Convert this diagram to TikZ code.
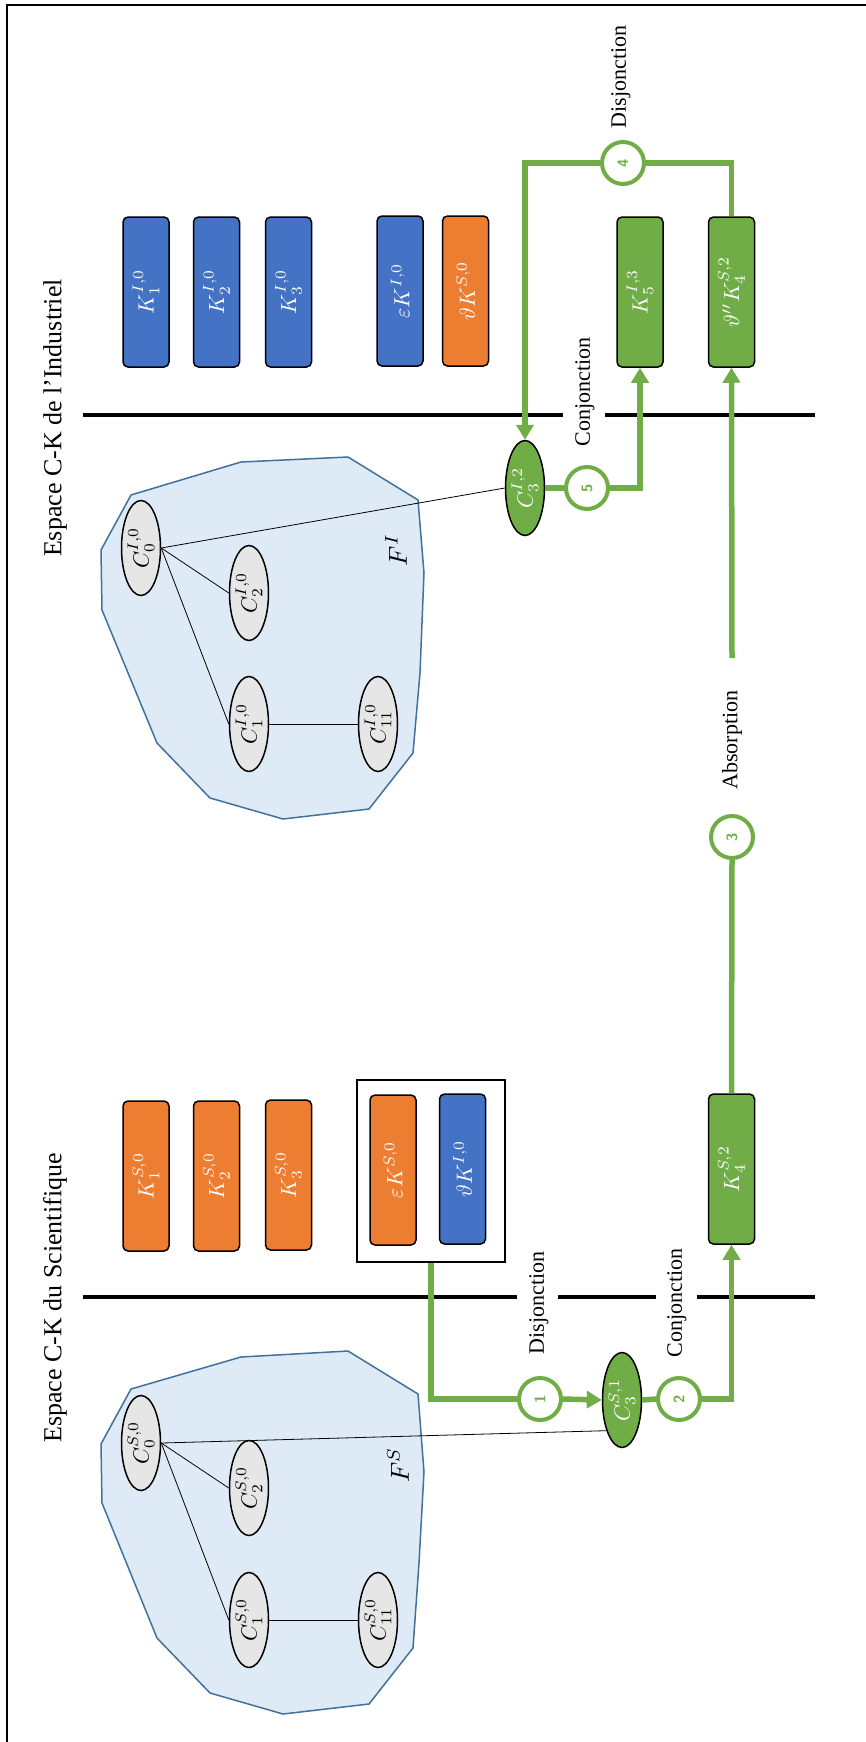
\documentclass[tikz,border=0pt]{standalone}
\usepackage{fontspec}
\setmainfont{Liberation Serif}
\usetikzlibrary{arrows.meta,shapes.geometric}
\definecolor{cblue}{HTML}{4472C4}
\definecolor{corange}{HTML}{ED7D31}
\definecolor{cgreen}{HTML}{70AD47}
\definecolor{cfill}{HTML}{DEEBF7}
\definecolor{cpoly}{HTML}{41719C}
\definecolor{cgrey}{HTML}{E7E6E6}
\newcommand\rtxt[1]{\rotatebox{90}{#1}}
\newcommand\mth[1]{\rotatebox{90}{\scalebox{2.2}{$#1$}}}
\begin{document}
\begin{tikzpicture}[x=1pt,y=-1pt,
  kbox/.style={draw=black, line width=1.5pt, rounded corners=5pt, minimum width=46pt, minimum height=150pt, inner sep=0pt, text=white, font=\normalsize},
  kblue/.style={kbox, fill=cblue},
  korange/.style={kbox, fill=corange},
  kgreen/.style={kbox, fill=cgreen},
  cell/.style={ellipse, draw=black, line width=1.5pt, minimum width=39pt, minimum height=95pt, inner sep=0pt, fill=cgrey, font=\normalsize},
  gcell/.style={cell, fill=cgreen, text=white},
  cnum/.style={circle, draw=cgreen, line width=4pt, fill=white, minimum size=42pt, inner sep=0pt, text=cgreen, font=\sffamily\bfseries\fontsize{15}{15}\selectfont},
  lab/.style={inner sep=0pt, font=\fontsize{22}{24}\selectfont},
  title/.style={inner sep=0pt, font=\fontsize{26}{28}\selectfont},
  flab/.style={inner sep=0pt, font=\normalsize},
  gline/.style={draw=cgreen, line width=5.5pt},
  garrow/.style={gline, -{Triangle[width=17pt,length=15pt]}},
  sep/.style={draw=black, line width=4pt},
  thin/.style={draw=black, line width=0.8pt},
  poly/.style={fill=cfill, draw=cpoly, line width=1.5pt, line join=round}
]
\useasboundingbox (0,0) rectangle (866,1742);
% frame
\draw[line width=1.8pt] (7,1742) -- (7,5) -- (866,5);

% titles
\node[title] (t1) at (55,418) {\rtxt{Espace C-K de l’Industriel}};
\node[title] (t2) at (55,1298) {\rtxt{Espace C-K du Scientifique}};

% polygons
\draw[poly] (131,495) -- (241,462) -- (348,457) -- (418,500) -- (424,573) -- (420,673) -- (413,753) -- (369,809) -- (283,819) -- (210,798) -- (157,743) -- (102,610) -- (101,550) -- cycle;
\draw[poly] (131,1389) -- (241,1357) -- (348,1351) -- (418,1394) -- (424,1472) -- (419,1563) -- (413,1648) -- (369,1704) -- (283,1714) -- (210,1693) -- (157,1638) -- (102,1503) -- (101,1444) -- cycle;
\node[flab] (FI) at (396,550) {\rotatebox{90}{\scalebox{2.6}{$F^{I}$}}};
\node[flab] (FS) at (398,1465) {\rotatebox{90}{\scalebox{2.6}{$F^{S}$}}};

% separators
\draw[sep] (83,415) -- (563,415);
\draw[sep] (605,415) -- (815,415);
\draw[sep] (83,1297) -- (517,1297);
\draw[sep] (558,1297) -- (656,1297);
\draw[sep] (697,1297) -- (815,1297);

% industrial cells
\node[cell] (C0I) at (141,548) {\mth{C^{I,0}_{0}}};
\node[cell] (C2I) at (249,593) {\mth{C^{I,0}_{2}}};
\node[cell] (C1I) at (249,724) {\mth{C^{I,0}_{1}}};
\node[cell] (C11I) at (378,724) {\mth{C^{I,0}_{11}}};
\node[gcell] (C3I) at (525,488) {\mth{C^{I,2}_{3}}};
% scientific cells
\node[cell] (C0S) at (141,1443) {\mth{C^{S,0}_{0}}};
\node[cell] (C2S) at (249,1488) {\mth{C^{S,0}_{2}}};
\node[cell] (C1S) at (249,1620) {\mth{C^{S,0}_{1}}};
\node[cell] (C11S) at (378,1620) {\mth{C^{S,0}_{11}}};
\node[gcell] (C3S) at (622,1400) {\mth{C^{S,1}_{3}}};

\draw[thin] (C0I.east) -- (C3I.west);
\draw[thin] (C0I.east) -- (C2I.west);
\draw[thin] (C0I.east) -- (C1I.west);
\draw[thin] (C1I.east) -- (C11I.west);
\draw[thin] (C0S.east) -- (C3S.243);
\draw[thin] (C0S.east) -- (C2S.west);
\draw[thin] (C0S.east) -- (C1S.west);
\draw[thin] (C1S.east) -- (C11S.west);

% industrial knowledge
\node[kblue] (KI1) at (146,292) {\mth{K^{I,0}_{1}}};
\node[kblue] (KI2) at (216.5,292) {\mth{K^{I,0}_{2}}};
\node[kblue] (KI3) at (288.5,292) {\mth{K^{I,0}_{3}}};
\node[kblue] (eKI) at (400,291) {\mth{\varepsilon K^{I,0}}};
\node[korange] (tKS) at (465.5,291) {\mth{\vartheta K^{S,0}}};
\node[kgreen] (K5) at (640,292) {\mth{K^{I,3}_{5}}};
\node[kgreen] (tK4) at (731.5,292) {\mth{\vartheta'' K^{S,2}_{4}}};

% scientific knowledge
\node[korange] (KS1) at (146,1176) {\mth{K^{S,0}_{1}}};
\node[korange] (KS2) at (216.5,1176) {\mth{K^{S,0}_{2}}};
\node[korange] (KS3) at (288.5,1175) {\mth{K^{S,0}_{3}}};
\node[draw=black, line width=1.3pt, minimum width=148pt, minimum height=182pt, inner sep=0pt] (grp) at (431,1171) {};
\node[korange] (eKS) at (393,1170) {\mth{\varepsilon K^{S,0}}};
\node[kblue] (tKI) at (462.5,1169) {\mth{\vartheta K^{I,0}}};
\node[kgreen] (K4S) at (731.5,1169) {\mth{K^{S,2}_{4}}};

% numbered circles
\node[cnum] (c1) at (540,1399) {\rtxt{1}};
\node[cnum] (c2) at (679,1399) {\rtxt{2}};
\node[cnum] (c3) at (732,837) {\rtxt{3}};
\node[cnum] (c4) at (623,163) {\rtxt{4}};
\node[cnum] (c5) at (587,488) {\rtxt{5}};
\coordinate (ab) at (732,658);

% green connectors
\draw[gline] (grp.south) |- (c1.west);
\draw[garrow] (c1.east) -- (C3S.west);
\draw[gline] (C3S.east) -- (c2.west);
\draw[garrow] (c2.east) -| (K4S.south);
\draw[gline] (K4S.north) -- (c3.south);
\draw[garrow] (ab) -- (tK4.south);
\draw[gline] (tK4.north) |- (c4.east);
\draw[garrow] (c4.west) -| (C3I.north);
\draw[gline] (C3I.east) -- (c5.west);
\draw[garrow] (c5.east) -| (K5.south);

% operation labels
\node[lab] (l4) at (621,77) {\rtxt{Disjonction}};
\node[lab] (l5) at (585,392) {\rtxt{Conjonction}};
\node[lab] (l3) at (732,740) {\rtxt{Absorption}};
\node[lab] (l1) at (539,1303) {\rtxt{Disjonction}};
\node[lab] (l2) at (677,1303) {\rtxt{Conjonction}};
\end{tikzpicture}
\end{document}
